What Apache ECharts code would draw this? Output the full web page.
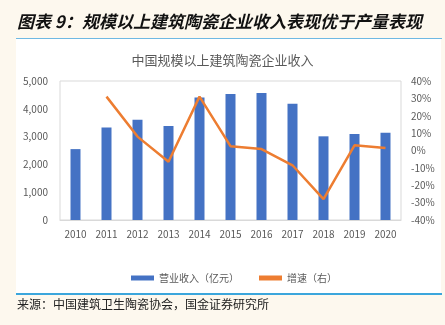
<!DOCTYPE html>
<html>
<head>
<meta charset="utf-8">
<script src="https://cdn.jsdelivr.net/npm/echarts@6/dist/echarts.min.js"></script>
<style>
html,body{margin:0;padding:0;background:#fdf8ee;}
#c{width:445px;height:325px;}
</style>
</head>
<body>
<div id="c"></div>
<script>
const years = ['2010','2011','2012','2013','2014','2015','2016','2017','2018','2019','2020'];
const revenue = [2550, 3330, 3610, 3380, 4410, 4530, 4570, 4180, 3010, 3090, 3140];
const growth = [null, 31, 8, -6.5, 31, 2.5, 0.8, -8.5, -28, 3, 1.5];
const leftTicks = [0, 1000, 2000, 3000, 4000, 5000];
const rightTicks = [-40, -30, -20, -10, 0, 10, 20, 30, 40];

const font = '"Noto Sans CJK SC", "Noto Sans", sans-serif';
const chart = echarts.init(document.getElementById('c'));
chart.setOption({
  backgroundColor: '#fdf8ee',
  animation: false,
  textStyle: {fontFamily: font},
  graphic: [
    {type: 'rect', z: -10, shape: {x: 16, y: 38, width: 425, height: 256}, style: {fill: '#ffffff'}},
    {type: 'rect', z: 5, shape: {x: 16, y: 38, width: 426, height: 1}, style: {fill: '#6fb9e3'}},
    {type: 'rect', z: 5, shape: {x: 16, y: 293, width: 426, height: 2}, style: {fill: '#3ba6dc'}},
    {type: 'text', left: 17, top: 13, style: {text: '图表 9：规模以上建筑陶瓷企业收入表现优于产量表现', font: 'italic bold 17px ' + font, fill: '#111111'}},
    {type: 'text', left: 17, top: 298, style: {text: '来源：中国建筑卫生陶瓷协会，国金证券研究所', font: '12px ' + font, fill: '#222222'}}
  ],
  title: {
    text: '中国规模以上建筑陶瓷企业收入',
    left: 'center', top: 49,
    textStyle: {fontSize: 13, fontWeight: 'normal', color: '#595959', fontFamily: font}
  },
  legend: {
    bottom: 37, left: 126, itemGap: 20,
    itemWidth: 23, itemHeight: 5,
    textStyle: {fontSize: 10, color: '#595959', fontFamily: font},
    data: [
      {name: '营业收入（亿元）', icon: 'rect'},
      {name: '增速（右）', icon: 'rect', itemStyle: {color: '#ED7D31'}}
    ]
  },
  grid: {left: 60, right: 44, top: 81, bottom: 105, show: true, borderColor: '#d9d9d9', borderWidth: 1},
  xAxis: {
    type: 'category', data: years,
    axisLine: {lineStyle: {color: '#d9d9d9'}},
    axisTick: {show: false},
    axisLabel: {color: '#595959', fontSize: 10, margin: 9}
  },
  yAxis: [
    {type: 'value', min: 0, max: 5000, interval: 1000,
     splitLine: {show: false}, axisLine: {show: false}, axisTick: {show: false},
     axisLabel: {color: '#595959', fontSize: 10, margin: 12,
       formatter: v => v.toLocaleString('en-US')}},
    {type: 'value', min: -40, max: 40, interval: 10,
     splitLine: {show: false}, axisLine: {show: false}, axisTick: {show: false},
     axisLabel: {color: '#595959', fontSize: 10, margin: 10, formatter: '{value}%'}}
  ],
  series: [
    {name: '营业收入（亿元）', type: 'bar', data: revenue, barWidth: 10,
     itemStyle: {color: '#4472C4'}},
    {name: '增速（右）', type: 'line', yAxisIndex: 1, data: growth,
     symbol: 'none', lineStyle: {color: '#ED7D31', width: 2.5}, itemStyle: {color: '#ED7D31'}}
  ]
});
</script>
</body>
</html>
